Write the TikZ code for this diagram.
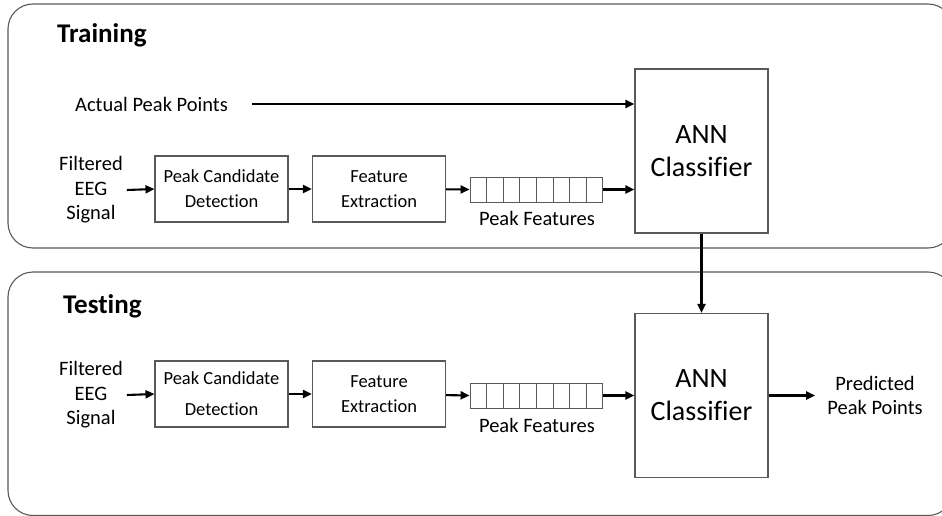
\documentclass[tikz,border=0pt]{standalone}
\usepackage{fontspec}
\setmainfont[Ligatures={NoCommon}]{Carlito}
\usetikzlibrary{arrows.meta}
\begin{document}
\begin{tikzpicture}[x=1pt,y=-1pt,
  panel/.style={draw=black!65,line width=1.1pt,rounded corners=25pt},
  blockbox/.style={draw=black!65,line width=1.1pt,minimum width=133pt,minimum height=66pt,inner sep=0pt,font=\fontsize{18.5}{25}\selectfont,align=center},
  annbox/.style={draw=black!65,line width=1.1pt,minimum width=133pt,minimum height=164pt,inner sep=0pt,font=\fontsize{28}{33}\selectfont,align=center},
  cellbox/.style={draw=black!65,line width=0.9pt,minimum width=16.6pt,minimum height=25pt,inner sep=0pt},
  lbl/.style={font=\fontsize{20.5}{24.5}\selectfont,align=center,inner sep=0pt},
  title/.style={font=\bfseries\fontsize{27}{30}\selectfont,anchor=base west,inner sep=0pt},
  flow/.style={draw=black,line width=2.1pt,-{Triangle[length=9pt,width=8pt]}}]
\useasboundingbox (0,0) rectangle (942,516);
\begin{scope}
\clip (0,0) rectangle (942,516);
\draw[panel] (8,4) rectangle (953,248);
\draw[panel] (8,272) rectangle (953,515.5);
\end{scope}

% ---------- training ----------
\node[title] (ttr) at (57,43) {Training};
\node[lbl,anchor=west] (act) at (75,104) {Actual Peak Points};
\node[lbl] (in1) at (91,190) {Filtered\\EEG\\Signal};
\node[blockbox] (pc1) at (221.5,189) {Peak Candidate\\Detection};
\node[blockbox] (fe1) at (379,189) {Feature\\Extraction};
\foreach \i in {0,...,7}
  \node[cellbox] (qa\i) at (478.3+\i*16.6,189.5) {};
\node[lbl] (pf1) at (537,218) {Peak Features};
\node[annbox] (ann1) at (701.5,151) {ANN\\Classifier};
\coordinate (ann1in) at (ann1.west |- act);
\coordinate (ann1q) at (ann1.west |- qa7);

\draw[flow] (252,104) -- (ann1in);
\draw[flow] (in1.east) ++(4,0) coordinate (s1) -- (pc1.west);
\draw[flow] (pc1) -- (fe1);
\draw[flow] (fe1) -- (qa0.west);
\draw[flow] (qa7.east) -- (ann1q);

% ---------- testing ----------
\node[title] (tte) at (63,313) {Testing};
\node[lbl] (in2) at (91,395) {Filtered\\EEG\\Signal};
\node[blockbox,font=\fontsize{18.5}{31}\selectfont] (pc2) at (221.5,394) {Peak Candidate\\Detection};
\node[blockbox] (fe2) at (379,394) {Feature\\Extraction};
\foreach \i in {0,...,7}
  \node[cellbox] (qb\i) at (478.3+\i*16.6,395.5) {};
\node[lbl] (pf2) at (537,425) {Peak Features};
\node[annbox] (ann2) at (701.5,395.5) {ANN\\Classifier};
\node[lbl] (out) at (875,395.5) {Predicted\\Peak Points};
\coordinate (ann2q) at (ann2.west |- qb7);
\coordinate (outin) at (out.west |- qb7);

\draw[flow] (in2.east) ++(4,0) coordinate (s2) -- (pc2.west);
\draw[flow] (pc2) -- (fe2);
\draw[flow] (fe2) -- (qb0.west);
\draw[flow] (qb7.east) -- (ann2q);
\draw[flow] (ann2.east |- qb7) -- ([xshift=-12pt]outin);

% model handed from training to testing
\draw[flow] (ann1.south) -- (ann2.north);
\end{tikzpicture}
\end{document}
